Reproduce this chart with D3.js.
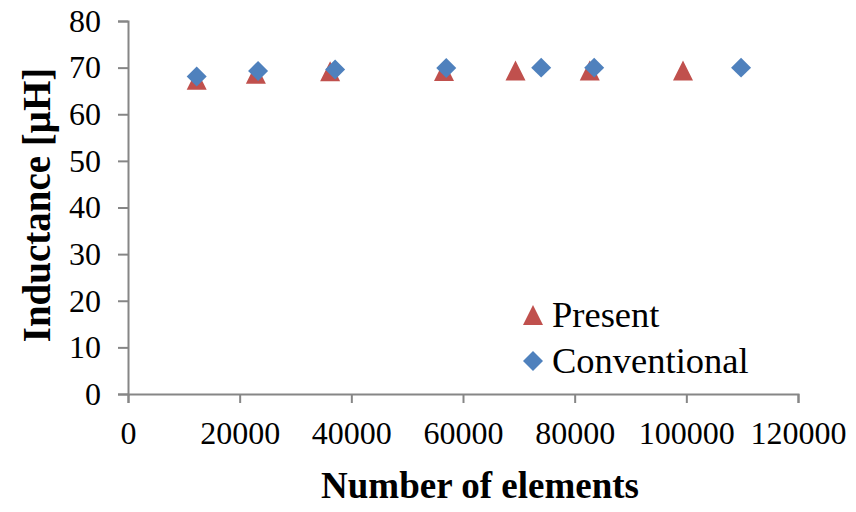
<!DOCTYPE html>
<html><head><meta charset="utf-8">
<script src="https://cdn.jsdelivr.net/npm/d3@7"></script>
<style>body{margin:0;background:#fff}svg{display:block}text{font-family:"Liberation Serif","Times New Roman",serif}</style>
</head><body><svg id="c" width="856" height="512"></svg>
<script>
const presentX = [12300, 22900, 36200, 56600, 69400, 82700, 99400];
const presentY = [67.4, 68.7, 69.2, 69.3, 69.4, 69.4, 69.4];
const convX = [12300, 23300, 37100, 57000, 74000, 83500, 109800];
const convY = [68.1, 69.3, 69.6, 69.9, 70.0, 70.0, 70.0];
const xTicks = [0, 20000, 40000, 60000, 80000, 100000, 120000];
const yTicks = [0, 10, 20, 30, 40, 50, 60, 70, 80];
const seriesNames = ["Present", "Conventional"];
const colors = ["#C0504D", "#4F81BD"];

const svg = d3.select("#c");
const L = 128, R = 798, T = 21, B = 394;
const x = d3.scaleLinear().domain([0, 120000]).range([L, R]);
const y = d3.scaleLinear().domain([0, 80]).range([B, T]);

const xAxis = svg.append("g").attr("transform", `translate(0,${B})`)
  .call(d3.axisBottom(x).tickValues(xTicks).tickSize(9).tickFormat(d3.format("d")));
const yAxis = svg.append("g").attr("transform", `translate(${L},0)`)
  .call(d3.axisLeft(y).tickValues(yTicks).tickSize(10).tickPadding(17).tickFormat(d3.format("d")));
[xAxis, yAxis].forEach(g => {
  g.select(".domain").attr("stroke", "#868686").attr("stroke-width", 2);
  g.selectAll(".tick line").attr("stroke", "#868686").attr("stroke-width", 2);
  g.selectAll(".tick text").attr("fill", "#000").style("font-size", "32px").style("font-family", "Liberation Serif");
});
xAxis.selectAll(".tick text").attr("y", 50).attr("dy", 0);

const tri = "M0,-10L10,10L-10,10Z";
const dia = d3.symbol().type(d3.symbolSquare).size(200);

svg.append("g").selectAll("path").data(presentX.map((v, i) => [v, presentY[i]]))
  .join("path").attr("d", tri).attr("fill", colors[0])
  .attr("transform", d => `translate(${x(d[0])},${y(d[1])})`);
svg.append("g").selectAll("path").data(convX.map((v, i) => [v, convY[i]]))
  .join("path").attr("d", dia).attr("fill", colors[1])
  .attr("transform", d => `translate(${x(d[0])},${y(d[1])}) rotate(45)`);

// legend
const lg = svg.append("g");
lg.append("path").attr("d", tri).attr("fill", colors[0]).attr("transform", "translate(533,315)");
lg.append("path").attr("d", dia).attr("fill", colors[1]).attr("transform", "translate(533,361) rotate(45)");
lg.selectAll("text").data(seriesNames).join("text")
  .attr("x", 552).attr("y", (d, i) => 327 + i * 46)
  .style("font-size", "36.5px").text(d => d);

svg.append("text").attr("x", 480).attr("y", 498).attr("text-anchor", "middle")
  .style("font-size", "37px").style("font-weight", "bold").text("Number of elements");
svg.append("text").attr("transform", "translate(50,205) rotate(-90)").attr("text-anchor", "middle")
  .style("font-size", "39px").style("font-weight", "bold").text("Inductance [μH]");
</script></body></html>
